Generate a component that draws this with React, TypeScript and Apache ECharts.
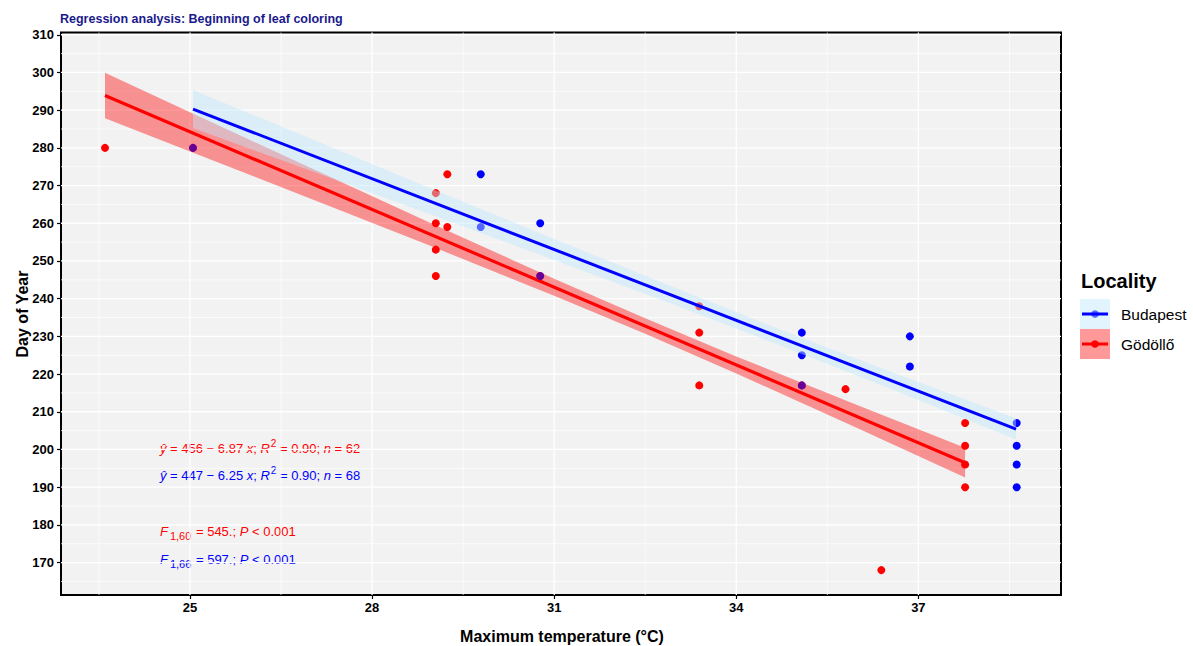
import React, { useEffect, useRef } from 'react';
import * as echarts from 'echarts';

const TITLE = 'Regression analysis: Beginning of leaf coloring';
const X_TITLE = 'Maximum temperature (°C)';
const Y_TITLE = 'Day of Year';
const LEGEND_TITLE = 'Locality';
const SERIES_NAMES = ['Budapest', 'Gödöllő'];

const X_MIN = 22.875;
const X_MAX = 39.35;
const Y_MIN = 161.4;
const Y_MAX = 310.6;
const X_TICKS = [25, 28, 31, 34, 37];
const X_MINOR = [23.5, 26.5, 29.5, 32.5, 35.5, 38.5];
const Y_TICKS = [170, 180, 190, 200, 210, 220, 230, 240, 250, 260, 270, 280, 290, 300, 310];
const Y_MINOR = [165, 175, 185, 195, 205, 215, 225, 235, 245, 255, 265, 275, 285, 295, 305];

// observed points
const godolloTemp = [23.6, 25.05, 29.05, 29.05, 29.05, 29.05, 29.24, 29.24, 30.77, 33.39, 33.39, 33.39, 35.08, 35.8, 36.39, 37.77, 37.77, 37.77, 37.77];
const godolloDay = [280, 280, 268, 260, 253, 246, 273, 259, 246, 238, 231, 217, 217, 216, 168, 207, 201, 196, 190];
const budapestTemp = [25.05, 29.79, 29.79, 30.77, 30.77, 35.08, 35.08, 35.08, 36.86, 36.86, 38.62, 38.62, 38.62, 38.62];
const budapestDay = [280, 273, 259, 260, 246, 231, 225, 217, 230, 222, 207, 201, 196, 190];

// fitted lines (end points)
const godolloFitTemp = [23.6, 37.77];
const godolloFitDay = [293.9, 196.5];
const budapestFitTemp = [25.05, 38.61];
const budapestFitDay = [290.3, 205.4];

// confidence bands
const godolloBandTemp = [23.6, 25, 27, 29, 31, 32.5, 34, 36, 37.77];
const godolloBandLow = [287.84, 279.05, 266.45, 253.74, 240.77, 230.68, 220.15, 205.64, 192.58];
const godolloBandHigh = [299.9, 289.45, 274.57, 259.8, 245.29, 234.78, 224.69, 211.72, 200.46];
const budapestBandTemp = [25.05, 27, 29, 31, 33, 34.8, 36.5, 38.61];
const budapestBandLow = [285.26, 273.86, 262.12, 250.28, 238.25, 227.14, 216.35, 202.63];
const budapestBandHigh = [295.34, 282.32, 269.02, 255.82, 242.81, 231.38, 220.89, 208.19];

const FONT = "'Liberation Sans', Arial, Helvetica, sans-serif";
const RED = '#FF0000';
const BLUE = '#0000FF';
const RED_BAND = 'rgba(255,0,0,0.4)';
const BLUE_BAND = 'rgba(190,230,250,0.45)';

function bandSeries(temps: number[], low: number[], high: number[], fill: string, z: number) {
  return {
    type: 'custom',
    z,
    silent: true,
    data: temps.map((t, i) => [t, low[i], high[i]]),
    encode: { x: 0, y: [1, 2] },
    renderItem: (params: any, api: any) => {
      if (params.dataIndex !== 0) return null;
      const upper = temps.map((t, i) => api.coord([t, high[i]]));
      const lower = temps.map((t, i) => api.coord([t, low[i]])).reverse();
      return { type: 'polygon', shape: { points: upper.concat(lower) }, style: { fill } };
    },
  };
}

function gridSeries() {
  return {
    type: 'custom',
    z: 1,
    silent: true,
    data: [[X_TICKS[0], Y_TICKS[0]]],
    encode: { x: 0, y: 1 },
    renderItem: (params: any, api: any) => {
      if (params.dataIndex !== 0) return null;
      const cs = params.coordSys;
      const children: any[] = [];
      const vline = (v: number, w: number) => {
        const p = api.coord([v, Y_MIN]);
        children.push({ type: 'line', shape: { x1: p[0], y1: cs.y, x2: p[0], y2: cs.y + cs.height }, style: { stroke: '#FFFFFF', lineWidth: w } });
      };
      const hline = (v: number, w: number) => {
        const p = api.coord([X_MIN, v]);
        children.push({ type: 'line', shape: { x1: cs.x, y1: p[1], x2: cs.x + cs.width, y2: p[1] }, style: { stroke: '#FFFFFF', lineWidth: w } });
      };
      X_MINOR.forEach((v) => vline(v, 0.7));
      Y_MINOR.forEach((v) => hline(v, 0.7));
      X_TICKS.forEach((v) => vline(v, 1.3));
      Y_TICKS.forEach((v) => hline(v, 1.3));
      return { type: 'group', children };
    },
  };
}

const godolloPts = godolloTemp.map((t, i) => [t, godolloDay[i]]);
const budapestPts = budapestTemp.map((t, i) => [t, budapestDay[i]]);
const isShared = (p: number[]) => godolloPts.some((q) => q[0] === p[0] && q[1] === p[1]);
const budapestOnly = budapestPts.filter((p) => !isShared(p));
const budapestShared = budapestPts.filter((p) => isShared(p));

function richLine(text: string, color: string, y: number) {
  return {
    type: 'text',
    x: 160,
    y,
    silent: true,
    style: {
      text,
      fill: color,
      align: 'left',
      verticalAlign: 'middle',
      fontFamily: FONT,
      fontSize: 13,
      rich: {
        n: { fill: color, fontSize: 13, fontFamily: FONT, lineHeight: 20, verticalAlign: 'middle' },
        i: { fill: color, fontSize: 13, fontFamily: FONT, fontStyle: 'italic', lineHeight: 20, verticalAlign: 'middle' },
        sup: { fill: color, fontSize: 10, fontFamily: FONT, lineHeight: 10, verticalAlign: 'top', padding: [0, 0, 0, 1] },
        sub: { fill: color, fontSize: 11, fontFamily: FONT, lineHeight: 10, verticalAlign: 'bottom', padding: [0, 1, 0, 2] },
      },
    },
  };
}

function legendKey(y: number, color: string, band: string, label: string) {
  return [
    { type: 'rect', shape: { x: 1080, y, width: 30, height: 30 }, style: { fill: '#FFFFFF' }, silent: true },
    { type: 'circle', shape: { cx: 1095, cy: y + 15, r: 3.8 }, style: { fill: color }, silent: true },
    { type: 'rect', shape: { x: 1080, y, width: 30, height: 30 }, style: { fill: band }, silent: true },
    { type: 'line', shape: { x1: 1082, y1: y + 15, x2: 1108, y2: y + 15 }, style: { stroke: color, lineWidth: 3 }, silent: true },
    { type: 'text', x: 1121, y: y + 15, style: { text: label, fill: '#000000', fontFamily: FONT, fontSize: 15.5, align: 'left', verticalAlign: 'middle' }, silent: true },
  ];
}

export default function App() {
  const ref = useRef<HTMLDivElement>(null);
  useEffect(() => {
    const chart = echarts.init(ref.current!, null, { renderer: 'svg' });
    const option: any = {
      animation: false,
      backgroundColor: '#FFFFFF',
      grid: {
        left: 61,
        top: 32.5,
        width: 1000,
        height: 562.5,
        show: true,
        backgroundColor: '#F2F2F2',
        borderColor: '#000000',
        borderWidth: 2,
        containLabel: false,
      },
      xAxis: {
        type: 'value',
        min: X_MIN,
        max: X_MAX,
        axisLine: { show: false },
        splitLine: { show: false },
        axisTick: { show: true, customValues: X_TICKS, length: 4, lineStyle: { color: '#000000', width: 1.2 } },
        axisLabel: { customValues: X_TICKS, fontFamily: FONT, fontWeight: 'bold', fontSize: 13, color: '#000000', margin: 6 },
      },
      yAxis: {
        type: 'value',
        min: Y_MIN,
        max: Y_MAX,
        axisLine: { show: false },
        splitLine: { show: false },
        axisTick: { show: true, customValues: Y_TICKS, length: 4, lineStyle: { color: '#000000', width: 1.2 } },
        axisLabel: { customValues: Y_TICKS, fontFamily: FONT, fontWeight: 'bold', fontSize: 13, color: '#000000', margin: 7 },
      },
      series: [
        gridSeries(),
        { type: 'scatter', name: SERIES_NAMES[1], z: 2, data: godolloPts, symbolSize: 8, itemStyle: { color: RED, opacity: 1 }, silent: true },
        { type: 'scatter', name: SERIES_NAMES[0], z: 2, data: budapestOnly, symbolSize: 8, itemStyle: { color: BLUE, opacity: 1 }, silent: true },
        bandSeries(godolloBandTemp, godolloBandLow, godolloBandHigh, RED_BAND, 3),
        bandSeries(budapestBandTemp, budapestBandLow, budapestBandHigh, BLUE_BAND, 4),
        { type: 'line', z: 5, data: budapestFitTemp.map((t, i) => [t, budapestFitDay[i]]), symbol: 'none', lineStyle: { color: BLUE, width: 3 }, silent: true },
        { type: 'line', z: 6, data: godolloFitTemp.map((t, i) => [t, godolloFitDay[i]]), symbol: 'none', lineStyle: { color: RED, width: 3.2 }, silent: true },
        { type: 'scatter', z: 7, data: budapestShared, symbolSize: 8, itemStyle: { color: BLUE, opacity: 0.6 }, silent: true },
      ],
      graphic: [
        { type: 'text', x: 60, y: 19, silent: true, style: { text: TITLE, fill: '#1A1A8C', fontFamily: FONT, fontWeight: 'bold', fontSize: 12.5, align: 'left', verticalAlign: 'middle' } },
        { type: 'text', x: 562, y: 636, silent: true, style: { text: X_TITLE, fill: '#000000', fontFamily: FONT, fontWeight: 'bold', fontSize: 16, align: 'center', verticalAlign: 'middle' } },
        { type: 'text', x: 22, y: 314, rotation: Math.PI / 2, silent: true, style: { text: Y_TITLE, fill: '#000000', fontFamily: FONT, fontWeight: 'bold', fontSize: 16, align: 'center', verticalAlign: 'middle' } },
        richLine('{i|ŷ}{n| = 456 − 6.87 }{i|x}{n|; }{i|R}{sup|2}{n| = 0.90; }{i|n}{n| = 62}', RED, 448),
        richLine('{i|ŷ}{n| = 447 − 6.25 }{i|x}{n|; }{i|R}{sup|2}{n| = 0.90; }{i|n}{n| = 68}', BLUE, 475),
        richLine('{i|F}{sub|1,60}{n| = 545.; }{i|P}{n| < 0.001}', RED, 531),
        richLine('{i|F}{sub|1,66}{n| = 597.; }{i|P}{n| < 0.001}', BLUE, 559),
        { type: 'text', x: 1081, y: 281, silent: true, style: { text: LEGEND_TITLE, fill: '#000000', fontFamily: FONT, fontWeight: 'bold', fontSize: 20, align: 'left', verticalAlign: 'middle' } },
        ...legendKey(299, BLUE, BLUE_BAND, SERIES_NAMES[0]),
        ...legendKey(329, RED, RED_BAND, SERIES_NAMES[1]),
      ],
    };
    chart.setOption(option);
    return () => chart.dispose();
  }, []);
  return <div ref={ref} style={{ position: 'absolute', left: 0, top: 0, width: 1193, height: 646 }} />;
}
